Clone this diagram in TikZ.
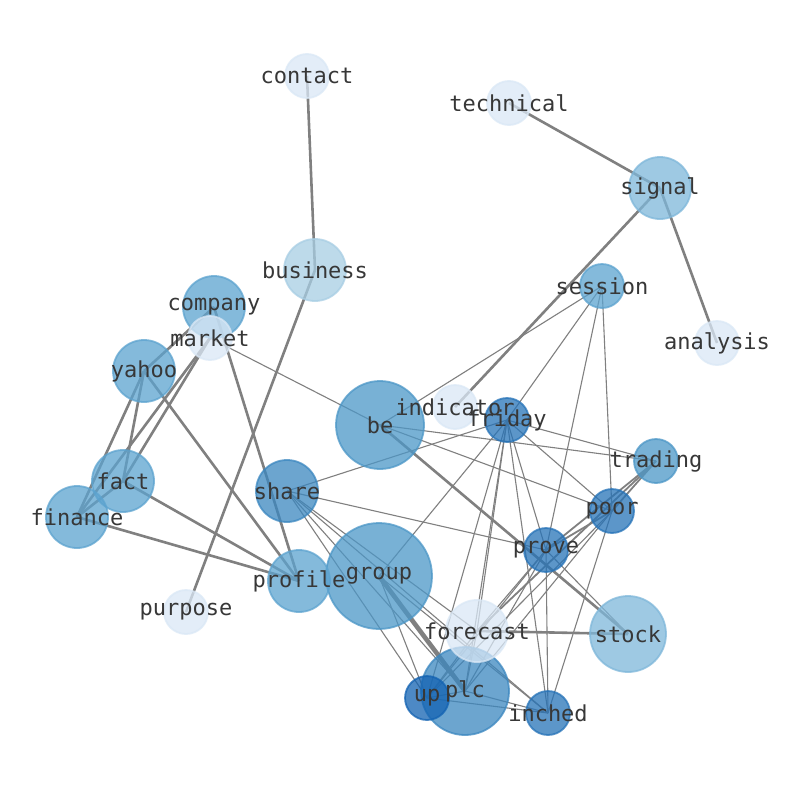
\documentclass[tikz,border=0pt]{standalone}
\usepackage{fontspec}
\newfontfamily\lblfont{DejaVu Sans Mono}
\definecolor{cvl}{RGB}{218,232,246}
\definecolor{cbz}{RGB}{168,206,228}
\definecolor{csg}{RGB}{126,183,218}
\definecolor{cmd}{RGB}{92,163,207}
\definecolor{cbe}{RGB}{76,151,199}
\definecolor{csh}{RGB}{59,135,192}
\definecolor{cdk}{RGB}{38,115,184}
\definecolor{cup}{RGB}{18,98,178}
\definecolor{edgegray}{RGB}{128,128,128}
\definecolor{txt}{RGB}{55,55,55}
\tikzset{
  vtx/.style={circle, inner sep=0pt, line width=1.8pt, fill opacity=0.75, draw opacity=0.75},
  lbl/.style={inner sep=0pt, text=txt, font=\lblfont\fontsize{22}{26}\selectfont},
  ethick/.style={draw=edgegray, line width=2.6pt},
  emid/.style={draw=edgegray, line width=1.8pt},
  ethin/.style={draw=edgegray, line width=1.1pt},
  ebig/.style={draw=edgegray, line width=4.6pt}
}
\newcommand\mkvtx[4]{\node[vtx, fill=#4, draw=#4, minimum size=#3*2pt] (n-#1) at (#1) {};}
\begin{document}
\begin{tikzpicture}[x=1pt,y=-1pt]
\useasboundingbox[fill=white] (0,0) rectangle (794,790);
% positions
\coordinate (contact) at (307,76);
\coordinate (technical) at (509,103);
\coordinate (signal) at (660,188);
\coordinate (business) at (315,270);
\coordinate (company) at (214,307);
\coordinate (market) at (210,338);
\coordinate (session) at (602,286);
\coordinate (analysis) at (717,343);
\coordinate (yahoo) at (144,371);
\coordinate (be) at (380,425);
\coordinate (indicator) at (455,407);
\coordinate (friday) at (507,420);
\coordinate (trading) at (656,461);
\coordinate (fact) at (123,481);
\coordinate (share) at (287,491);
\coordinate (poor) at (612,511);
\coordinate (finance) at (77,517);
\coordinate (prove) at (546,550);
\coordinate (group) at (379,576);
\coordinate (profile) at (299,581);
\coordinate (purpose) at (186,612);
\coordinate (forecast) at (477,631);
\coordinate (stock) at (628,634);
\coordinate (plc) at (465,691);
\coordinate (up) at (427,698);
\coordinate (inched) at (548,713);
% thin edges
\foreach \a/\b in {market/be, be/session, be/trading, be/poor,
  share/friday, share/prove, share/up, share/plc, share/inched, share/forecast,
  group/friday, group/up, group/inched,
  friday/session, friday/trading, friday/poor, friday/prove, friday/inched, friday/up, friday/plc, friday/forecast,
  session/prove, session/poor,
  poor/inched, poor/up, poor/plc,
  prove/forecast, prove/up, prove/plc, prove/inched, prove/stock,
  forecast/up, forecast/plc, plc/inched, up/inched, up/plc}
  \draw[ethin] (\a) -- (\b);
% medium edges
\foreach \a/\b in {trading/poor, trading/prove, trading/forecast, poor/prove}
  \draw[emid] (\a) -- (\b);
% thick edges
\foreach \a/\b in {contact/business, technical/signal, signal/analysis, signal/indicator,
  business/purpose, company/profile, yahoo/company, yahoo/fact, yahoo/finance, yahoo/profile,
  fact/finance, fact/market, finance/market, fact/profile, finance/profile,
  be/stock, forecast/stock}
  \draw[ethick] (\a) -- (\b);
\draw[ebig] (group) -- (plc);
% nodes
\mkvtx{contact}{}{22}{cvl}
\mkvtx{technical}{}{22}{cvl}
\mkvtx{signal}{}{31}{csg}
\mkvtx{business}{}{31}{cbz}
\mkvtx{company}{}{31}{cmd}
\mkvtx{market}{}{22}{cvl}
\mkvtx{session}{}{22}{cmd}
\mkvtx{analysis}{}{22}{cvl}
\mkvtx{yahoo}{}{31}{cmd}
\mkvtx{be}{}{44}{cbe}
\mkvtx{indicator}{}{22}{cvl}
\mkvtx{friday}{}{22}{cdk}
\mkvtx{trading}{}{22}{cbe}
\mkvtx{fact}{}{31}{cmd}
\mkvtx{share}{}{31}{csh}
\mkvtx{poor}{}{22}{cdk}
\mkvtx{finance}{}{31}{cmd}
\mkvtx{prove}{}{22}{cdk}
\mkvtx{group}{}{53}{cbe}
\mkvtx{profile}{}{31}{cmd}
\mkvtx{purpose}{}{22}{cvl}
\mkvtx{plc}{}{44}{csh}
\mkvtx{forecast}{}{31}{cvl}
\mkvtx{up}{}{22}{cup}
\mkvtx{stock}{}{38}{csg}
\mkvtx{inched}{}{22}{cdk}
% labels
\foreach \n in {contact,technical,signal,business,company,market,session,analysis,yahoo,be,indicator,friday,trading,fact,share,poor,finance,prove,group,profile,purpose,forecast,stock,plc,up,inched}
  \node[lbl] (l-\n) at (\n) {\n};
\end{tikzpicture}
\end{document}
